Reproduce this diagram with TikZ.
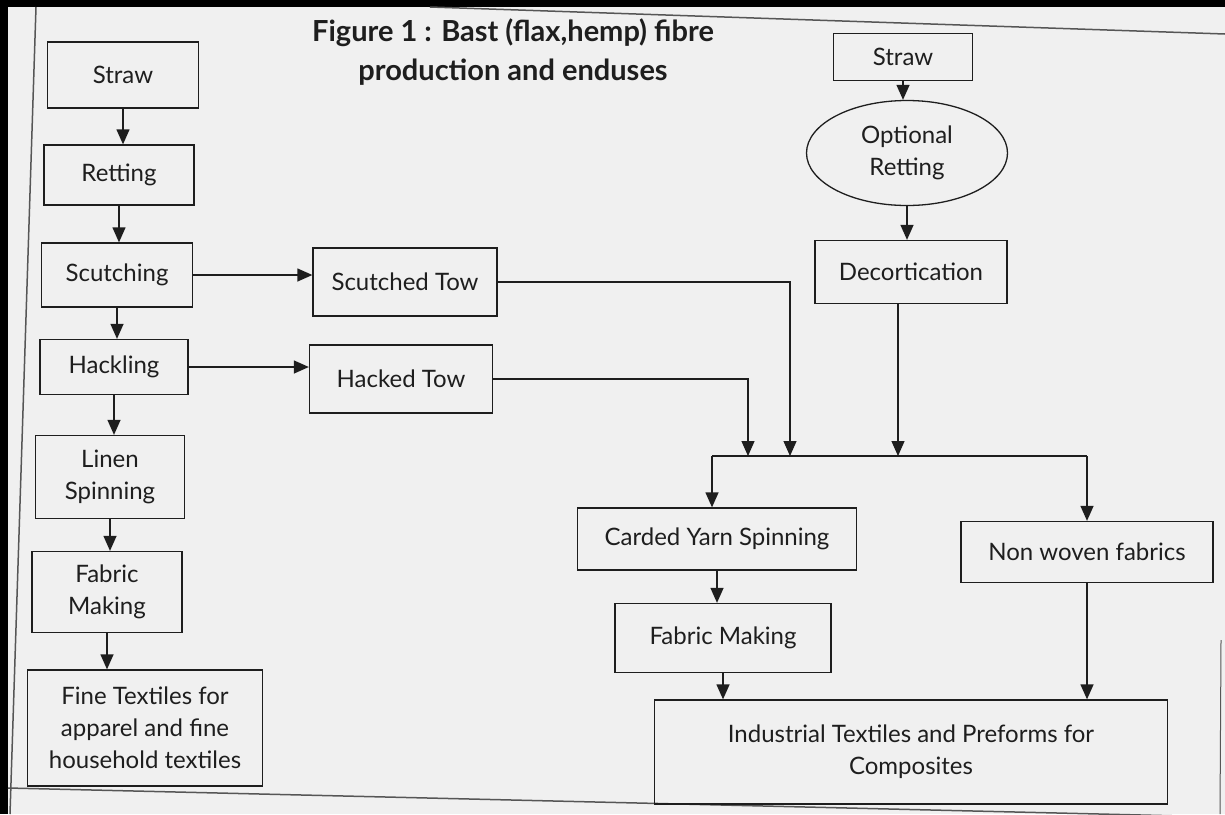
\documentclass[tikz,border=0pt]{standalone}
\usepackage{fontspec}
\setmainfont{Lato}
\usetikzlibrary{arrows.meta, shapes.geometric, positioning, calc}

\definecolor{scanbg}{HTML}{F0F0F0}
\definecolor{ink}{HTML}{1E1E1E}

\begin{document}
\begin{tikzpicture}[x=1pt, y=-1pt,
    box/.style={draw=ink, line width=1.3pt, align=center, inner sep=0pt,
        text=ink, font=\fontsize{24}{32}\selectfont},
    arr/.style={-{Triangle[length=15pt,width=13pt]}, line width=1.3pt, draw=ink},
    edge/.style={line width=1.5pt, draw=ink!75}]

    % scanned page
    \fill[scanbg] (0,0) rectangle (1225,814);
    \useasboundingbox (0,0) rectangle (1225,814);
    \fill[black] (0,0) rectangle (1225,7);
    \fill[black] (0,0) rectangle (8,814);
    \draw[edge] (36,7) -- (10,814);
    \draw[edge] (430,7) -- (1225,34);
    \draw[edge] (8,788) -- (1225,817);
    \draw[edge, line width=1pt] (1221,640) -- (1220,814);

    \node[text=ink, align=center, font=\fontsize{29}{39}\selectfont\bfseries] (title) at (513,52)
        {Figure 1 : Bast (flax,hemp) fibre\\production and enduses};

    % flax line
    \node[box, minimum width=151pt, minimum height=66pt] (straw1) at (123,75) {Straw};
    \node[box, minimum width=150pt, minimum height=60pt] (ret) at (119,175) {Retting};
    \node[box, minimum width=151pt, minimum height=64pt] (scut) at (117,275) {Scutching};
    \node[box, minimum width=148pt, minimum height=55pt] (hack) at (114,367) {Hackling};
    \node[box, minimum width=149pt, minimum height=83pt] (linen) at (110,477) {Linen\\Spinning};
    \node[box, minimum width=150pt, minimum height=81pt] (fab1) at (107,592) {Fabric\\Making};
    \node[box, minimum width=235pt, minimum height=116pt] (fine) at (145,728)
        {Fine Textiles for\\apparel and fine\\household textiles};

    \node[box, minimum width=184pt, minimum height=68pt] (stow) at (405,282) {Scutched Tow};
    \node[box, minimum width=183pt, minimum height=68pt] (htow) at (401,379) {Hacked Tow};

    % hemp line
    \node[box, minimum width=139pt, minimum height=47pt] (straw2) at (903,57) {Straw};
    \node[box, ellipse, minimum width=201pt, minimum height=105pt] (opt) at (907,153) {Optional\\Retting};
    \node[box, minimum width=192pt, minimum height=63pt] (dec) at (911,272) {Decortication};

    % end uses
    \node[box, minimum width=279pt, minimum height=62pt] (card) at (717,539) {Carded Yarn Spinning};
    \node[box, minimum width=252pt, minimum height=61pt] (nonw) at (1087,552) {Non woven fabrics};
    \node[box, minimum width=216pt, minimum height=69pt] (fab2) at (723,638) {Fabric Making};
    \node[box, minimum width=513pt, minimum height=104pt] (ind) at (911,752)
        {Industrial Textiles and Preforms for\\Composites};

    \coordinate (busL) at (712,456);
    \coordinate (busR) at (1087,456);
    \coordinate (j1) at (748,456);
    \coordinate (j2) at (790,456);
    \coordinate (j3) at (898,456);

    \draw[arr] (straw1.south) -- (straw1.south |- ret.north);
    \draw[arr] (ret.south) -- (ret.south |- scut.north);
    \draw[arr] (scut.south) -- (scut.south |- hack.north);
    \draw[arr] (hack.south) -- (hack.south |- linen.north);
    \draw[arr] (linen.south) -- (linen.south |- fab1.north);
    \draw[arr] (fab1.south) -- (fab1.south |- fine.north);

    \draw[arr] (scut.east) -- (scut.east -| stow.west);
    \draw[arr] (hack.east) -- (hack.east -| htow.west);
    \draw[arr] (stow.east) -| (j2);
    \draw[arr] (htow.east) -| (j1);

    \draw[arr] (straw2.south) -- (straw2.south |- opt.north);
    \draw[arr] (opt.south) -- (opt.south |- dec.north);
    \draw[arr] (dec.south -| j3) -- (j3);

    \draw[line width=1.3pt, draw=ink] (busL) -- (busR);
    \draw[arr] (busL) -- (busL |- card.north);
    \draw[arr] (busR) -- (busR |- nonw.north);
    \draw[arr] (card.south) -- (card.south |- fab2.north);
    \draw[arr] (fab2.south) -- (fab2.south |- ind.north);
    \draw[arr] (nonw.south) -- (nonw.south |- ind.north);

\end{tikzpicture}
\end{document}
